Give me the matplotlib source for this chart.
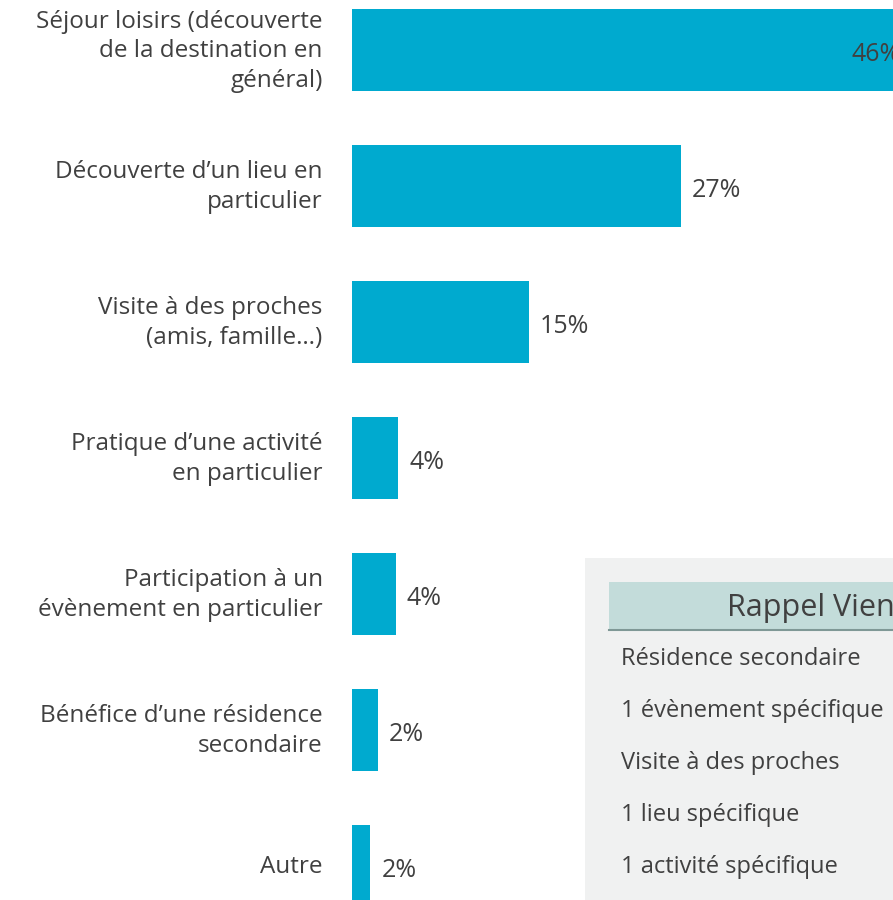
import matplotlib.pyplot as plt
from matplotlib.patches import Rectangle

plt.rcParams['font.family'] = ['Open Sans', 'DejaVu Sans']

categories = [
    "Séjour loisirs (découverte\nde la destination en\ngénéral)",
    "Découverte d\u2019un lieu en\nparticulier",
    "Visite à des proches\n(amis, famille\u2026)",
    "Pratique d\u2019une activité\nen particulier",
    "Participation à un\névènement en particulier",
    "Bénéfice d\u2019une résidence\nsecondaire",
    "Autre",
]
values = [46, 27, 14.5, 3.8, 3.6, 2.1, 1.5]
value_labels = ["46%", "27%", "15%", "4%", "4%", "2%", "2%"]

rappel_title = "Rappel Vienne"
rappel_rows = [
    "Résidence secondaire",
    "1 évènement spécifique",
    "Visite à des proches",
    "1 lieu spécifique",
    "1 activité spécifique",
]

BAR = '#00aacf'
TXT = '#404040'

fig = plt.figure(figsize=(8.93, 9.0), dpi=100)
W, H = 893, 900

# main bar axes: value 0 at x=352px, 12.19 px per percent
ax = fig.add_axes([352 / W, 0, 1 - 352 / W, 1])
ax.set_xlim(0, (W - 352) / 12.19)
ax.set_ylim(850 / 136, -50 / 136)
ypos = list(range(len(categories)))
ax.barh(ypos, values, height=0.6, color=BAR)
for y, v, lab in zip(ypos, values, value_labels):
    if v > 40:
        ax.text(v - 1.0, y + 0.03, lab, ha='right', va='center', fontsize=18, color=TXT,
                clip_on=False)
    else:
        ax.text(v + 0.9, y + 0.03, lab, ha='left', va='center', fontsize=18, color=TXT)
for y, cat in zip(ypos, categories):
    ax.text(-2.4, y + 0.01, cat, ha='right', va='center', fontsize=17.5, color=TXT,
            linespacing=1.32)
ax.axis('off')

# inset "Rappel" box
fig.patches.append(Rectangle((585 / W, 0), 1, (H - 558) / H, transform=fig.transFigure,
                             facecolor='#f0f1f1', edgecolor='none', zorder=3))
fig.patches.append(Rectangle((609 / W, (H - 630) / H), 1, 48 / H, transform=fig.transFigure,
                             facecolor='#c3dcda', edgecolor='none', zorder=4))
fig.lines.append(plt.Line2D([609 / W, 1], [(H - 630) / H] * 2, transform=fig.transFigure,
                            color='#7f9896', lw=1.5, zorder=5))
fig.text(727 / W, (H - 608) / H, rappel_title, ha='left', va='center', fontsize=22,
         color=TXT, zorder=6)
for i, row in enumerate(rappel_rows):
    fig.text(621 / W, (H - 659 - 52 * i) / H, row, ha='left', va='center', fontsize=17,
             color=TXT, zorder=6)

fig.savefig('out.png', dpi=100)
